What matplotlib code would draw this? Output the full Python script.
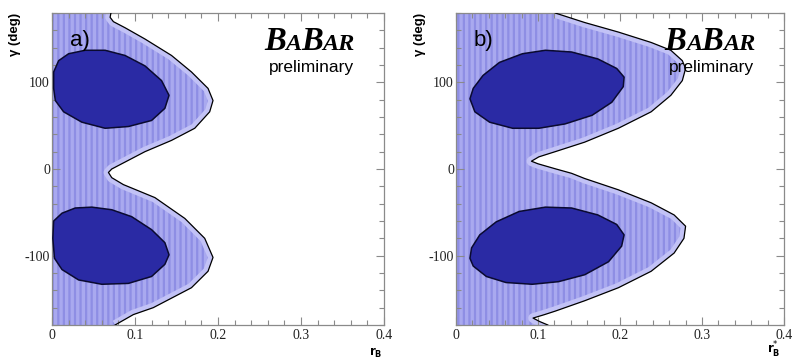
"""
BaBar preliminary: confidence regions in the (r_B, gamma) plane.
  a) D K     b) D* K
"""

import matplotlib
matplotlib.use("Agg")
import matplotlib.pyplot as plt
from matplotlib.ticker import MultipleLocator, FuncFormatter

plt.rcParams["axes.unicode_minus"] = False
plt.rcParams["hatch.linewidth"] = 1.6

# ---- data (r, gamma in degrees) ----
# panel a: outer (light) region, right boundary from top to bottom
A_OUT_G = [180, 175, 170, 163, 150, 131, 112, 93, 79, 66, 47, 33, 20, 8, 0, -4,
           -10, -18, -33, -57, -80, -102, -118, -137, -151, -160, -168, -180]
A_OUT_R = [0.071, 0.070, 0.074, 0.088, 0.112, 0.144, 0.168, 0.188, 0.194, 0.190,
           0.172, 0.144, 0.112, 0.088, 0.072, 0.068, 0.072, 0.086, 0.124, 0.160,
           0.184, 0.194, 0.188, 0.168, 0.140, 0.122, 0.098, 0.076]

# panel a: inner (dark) islands
A_UP_R = [0.002, 0.008, 0.020, 0.040, 0.064, 0.088, 0.112, 0.132, 0.141, 0.136,
          0.120, 0.092, 0.064, 0.036, 0.014, 0.004, 0.002]
A_UP_G = [112, 125, 133, 137, 137, 131, 119, 102, 85, 70, 56, 49, 47, 54, 66, 79, 93]
A_LO_R = [0.002, 0.012, 0.028, 0.048, 0.072, 0.096, 0.120, 0.136, 0.141, 0.136,
          0.120, 0.092, 0.060, 0.032, 0.012, 0.003, 0.001]
A_LO_G = [-60, -51, -45, -44, -47, -55, -70, -85, -99, -110, -124, -132, -133,
          -128, -116, -103, -80]

# panel b: outer region
B_OUT_G = [180, 169, 158, 146, 137, 125, 116, 102, 85, 66, 47, 31, 20, 14, 9, 6, 0,
           -5, -11, -24, -39, -53, -66, -80, -97, -118, -137, -152, -164, -168,
           -172, -176, -180]
B_OUT_R = [0.121, 0.157, 0.198, 0.238, 0.262, 0.276, 0.280, 0.276, 0.262, 0.238,
           0.198, 0.157, 0.121, 0.101, 0.092, 0.100, 0.122, 0.141, 0.157, 0.198,
           0.238, 0.266, 0.280, 0.278, 0.266, 0.238, 0.198, 0.157, 0.121, 0.108,
           0.094, 0.102, 0.112]

# panel b: inner islands
B_UP_R = [0.017, 0.021, 0.033, 0.053, 0.081, 0.109, 0.141, 0.173, 0.196, 0.205,
          0.204, 0.190, 0.166, 0.133, 0.101, 0.069, 0.041, 0.023]
B_UP_G = [81, 93, 108, 123, 133, 137, 135, 127, 116, 106, 95, 77, 62, 52, 47, 47, 54, 66]
B_LO_R = [0.017, 0.019, 0.029, 0.049, 0.077, 0.109, 0.141, 0.173, 0.196, 0.205,
          0.202, 0.186, 0.157, 0.125, 0.093, 0.061, 0.037, 0.021]
B_LO_G = [-103, -91, -76, -61, -49, -44, -45, -53, -64, -76, -89, -107, -122, -130,
          -133, -131, -124, -112]

LIGHT = "#a9a9ef"
STRIPE = "#8e8ee4"
EDGE_BAND = "#c2c2f6"
DARK = "#2a2aa4"
SPINE = "#8a8a8a"


def babar_logo(fig, ax, x_right, y_base):
    # B and B large, A / AR as small caps, bold italic serif
    pieces = [("B", 23.5), ("A", 17.5), ("B", 23.5), ("AR", 17.5)]
    renderer = fig.canvas.get_renderer()
    texts = []
    for s, size in pieces:
        t = ax.text(0, y_base, s, transform=ax.transAxes, ha="left", va="baseline",
                    fontsize=size, family="Liberation Serif", fontweight="bold",
                    fontstyle="italic", color="black", zorder=10)
        texts.append(t)
    widths = [t.get_window_extent(renderer).width * 0.98 for t in texts]
    x_disp_right = ax.transAxes.transform((x_right, y_base))[0]
    x = x_disp_right - sum(widths)
    for t, w in zip(texts, widths):
        xa = ax.transAxes.inverted().transform((x, 0))[0]
        t.set_x(xa)
        x += w


def draw_panel(fig, ax, out_r, out_g, islands, tag, xlabel, xlab_x):
    # light outer region with vertical stripes
    poly = ax.fill_betweenx(out_g, 0, out_r, facecolor=LIGHT, edgecolor=STRIPE,
                            hatch="|||", linewidth=0, zorder=1)
    band, = ax.plot(out_r, out_g, color=EDGE_BAND, lw=7, zorder=2,
                    solid_capstyle="butt", solid_joinstyle="round")
    band.set_clip_path(poly.get_paths()[0], poly.get_transform())
    ax.plot(out_r, out_g, color="black", lw=0.9, zorder=3,
            solid_joinstyle="round")

    for r, g in islands:
        ax.fill(r, g, facecolor=DARK, edgecolor="#0a0a30", lw=1.1, zorder=4,
                joinstyle="round")

    ax.set_xlim(0, 0.4)
    ax.set_ylim(-180, 180)
    ax.xaxis.set_major_locator(MultipleLocator(0.1))
    ax.xaxis.set_minor_locator(MultipleLocator(0.02))
    ax.yaxis.set_major_locator(MultipleLocator(100))
    ax.yaxis.set_minor_locator(MultipleLocator(20))
    ax.xaxis.set_major_formatter(FuncFormatter(lambda v, _: f"{v:g}"))
    ax.yaxis.set_major_formatter(FuncFormatter(lambda v, _: f"{v:g}"))
    ax.tick_params(which="both", direction="in", top=True, right=True,
                   color=SPINE, width=0.8)
    ax.tick_params(which="major", length=6, pad=3)
    ax.tick_params(which="minor", length=3.5)
    ax.tick_params(axis="y", which="major", pad=1.5)
    for lab in ax.get_xticklabels() + ax.get_yticklabels():
        lab.set_family("Liberation Serif")
        lab.set_fontsize(10)
        lab.set_color("#222222")
    for sp in ax.spines.values():
        sp.set_color(SPINE)
        sp.set_linewidth(0.9)
    ax.set_axisbelow(False)

    ax.text(0.055, 0.895, tag, transform=ax.transAxes, fontsize=16,
            family="Liberation Sans", ha="left", va="baseline", zorder=10)
    ax.text(-0.11, 1.0, "γ (deg)", transform=ax.transAxes, rotation=90,
            ha="center", va="top", fontsize=9.5, fontweight="bold",
            family="Liberation Sans")
    # axis label at the bottom-right corner, kept inside the figure
    x_fig = fig.transFigure.inverted().transform(
        ax.transAxes.transform((xlab_x, 0)))[0]
    fig.text(x_fig, 0.006, xlabel, ha="right", va="bottom", fontsize=8.5)

    babar_logo(fig, ax, 0.91, 0.882)
    ax.text(0.91, 0.812, "preliminary", transform=ax.transAxes, ha="right",
            va="baseline", fontsize=12.5, family="Liberation Sans", zorder=10)


def main():
    fig = plt.figure(figsize=(7.95, 3.62), dpi=100)
    ax_a = fig.add_axes([52 / 795, 1 - 325 / 362, 332 / 795, 312 / 362])
    ax_b = fig.add_axes([456 / 795, 1 - 325 / 362, 328 / 795, 312 / 362])

    draw_panel(fig, ax_a, A_OUT_R, A_OUT_G,
               [(A_UP_R, A_UP_G), (A_LO_R, A_LO_G)], "a)",
               r"$\mathbf{r}_{\mathbf{B}}$", 0.995)
    draw_panel(fig, ax_b, B_OUT_R, B_OUT_G,
               [(B_UP_R, B_UP_G), (B_LO_R, B_LO_G)], "b)",
               r"$\mathbf{r}^{*}_{\mathbf{B}}$", 0.99)

    fig.savefig("out.png", dpi=100)
    plt.close(fig)


if __name__ == "__main__":
    main()
